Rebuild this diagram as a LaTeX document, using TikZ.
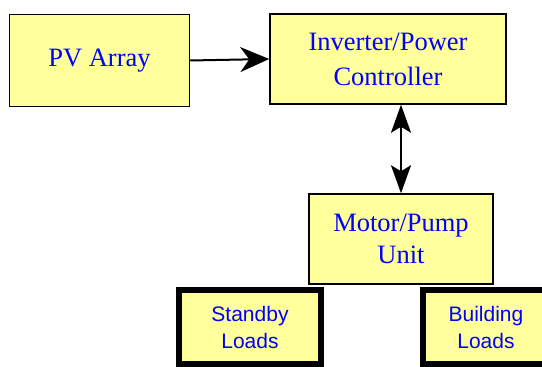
\documentclass[tikz,border=0pt]{standalone}
\usepackage{fontspec}
\setmainfont{Liberation Serif}
\newfontfamily\loadfont{Liberation Sans}
\usepackage{tikz}
\usetikzlibrary{positioning,calc,arrows.meta}
\definecolor{boxfill}{HTML}{FFFF9C}
\definecolor{boxtext}{HTML}{0000FF}
\tikzset{
  unitbox/.style={draw,line width=1.5pt,fill=boxfill,text=boxtext,align=center,
    font=\fontsize{26.5}{35}\selectfont,inner sep=0pt},
  loadbox/.style={draw,line width=6pt,fill=boxfill,text=boxtext,align=center,
    font=\loadfont\fontsize{21}{27}\selectfont,inner sep=0pt,
    minimum width=142pt,minimum height=74pt},
  flow/.style={line width=2pt,-{Stealth[length=29pt,width=25pt,inset=9pt]}},
  bothflow/.style={line width=2pt,{Stealth[length=28pt,width=20pt,inset=6pt]}-{Stealth[length=28pt,width=20pt,inset=6pt]}}
}

\begin{document}
\begin{tikzpicture}[x=1pt,y=1pt]
  \useasboundingbox (0,0) rectangle (542,367);
  \clip (0,0) rectangle (542,367);
  \node[unitbox,minimum width=180pt,minimum height=92pt] (pv) at (99.5,306.5) {PV Array};
  \node[unitbox,minimum width=236pt,minimum height=90pt] (inv) at (388,308) {Inverter/Power\\Controller};
  \node[unitbox,minimum width=184pt,minimum height=90pt,font=\fontsize{26.5}{32}\selectfont] (motor) at (401,128) {Motor/Pump\\Unit};
  \node[loadbox] (standby) at (250,40) {Standby\\Loads};
  \node[loadbox,minimum width=126pt] (building) at (486,40) {Building\\Loads};
  \draw[flow] (pv.east) -- (inv.west);
  \draw[bothflow] (motor.north) -- (motor.north |- inv.south);
\end{tikzpicture}
\end{document}
